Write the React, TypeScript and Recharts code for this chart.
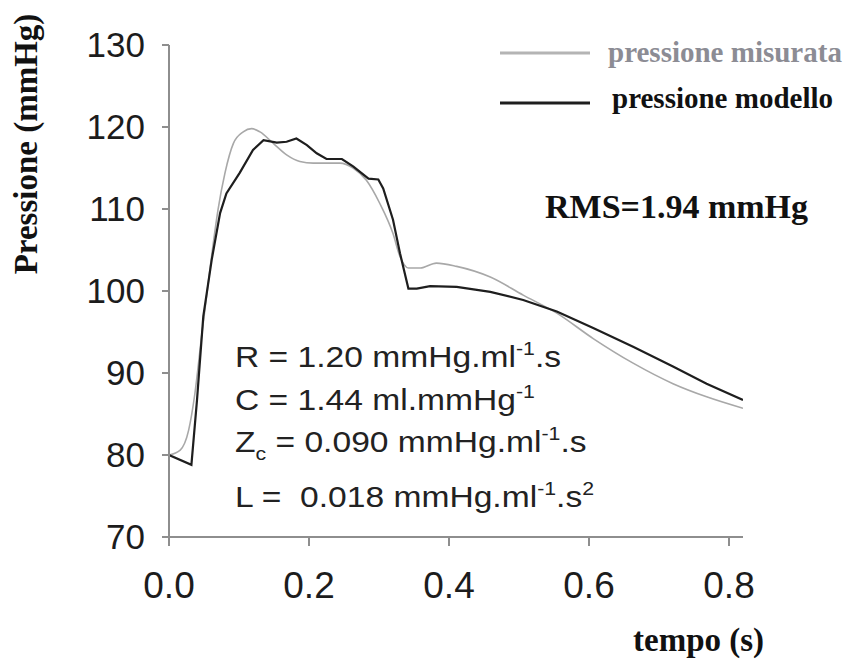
import { LineChart, Line, XAxis, YAxis } from "recharts";

// pressione modello (black)
const modelTime = [
    0, 0.032, 0.04, 0.049, 0.061, 0.073, 0.082, 0.101, 0.12, 0.135, 0.154, 0.168,
    0.182, 0.197, 0.211, 0.225, 0.247, 0.263, 0.285, 0.299, 0.306, 0.32, 0.33, 0.342,
    0.354, 0.373, 0.411, 0.459, 0.506, 0.554, 0.606, 0.663, 0.72, 0.768, 0.82,
];
const modelPressure = [
    80.0, 78.8, 86.7, 96.9, 103.8, 109.5, 111.9, 114.4, 117.2, 118.4, 118.1, 118.2,
    118.6, 117.8, 116.8, 116.1, 116.1, 115.2, 113.7, 113.6, 112.5, 108.7, 104.6, 100.3,
    100.3, 100.6, 100.5, 99.9, 98.9, 97.5, 95.5, 93.2, 90.8, 88.7, 86.7,
];

// pressione misurata (grey)
const measuredTime = [
    0, 0.016, 0.028, 0.037, 0.047, 0.059, 0.07, 0.08, 0.092, 0.106, 0.118, 0.13,
    0.149, 0.168, 0.187, 0.206, 0.244, 0.263, 0.282, 0.301, 0.32, 0.33, 0.342, 0.359,
    0.382, 0.411, 0.459, 0.506, 0.554, 0.606, 0.663, 0.72, 0.768, 0.82,
];
const measuredPressure = [
    80.0, 80.6, 83.0, 87.5, 94.8, 103.0, 109.9, 114.4, 118.0, 119.4, 119.8, 119.4,
    118.0, 116.6, 115.8, 115.6, 115.6, 115.0, 113.5, 110.7, 107.0, 104.2, 102.8, 102.8,
    103.4, 103.0, 101.7, 99.5, 97.3, 94.2, 91.2, 88.7, 87.1, 85.7,
];

const xTicks = [0, 0.2, 0.4, 0.6, 0.8];
const yTicks = [70, 80, 90, 100, 110, 120, 130];

const modelData = modelTime.map((t, i) => ({ t, p: modelPressure[i] }));
const measuredData = measuredTime.map((t, i) => ({ t, p: measuredPressure[i] }));

const AXIS = "#8e8e8e";
const SANS = "'Liberation Sans', Arial, sans-serif";
const SERIF = "'Liberation Serif', 'Times New Roman', serif";

const Overlay = () => (
    <svg
        width={850}
        height={663}
        style={{ position: "absolute", left: 0, top: 0, pointerEvents: "none" }}
    >
        {/* legend */}
        <line x1={500} x2={590} y1={53} y2={53} stroke="#b4b4b4" strokeWidth={3} />
        <text x={608} y={62} fontFamily={SERIF} fontWeight="bold" fontSize={29} fill="#8c8c94">
            pressione misurata
        </text>
        <line x1={500} x2={590} y1={103} y2={103} stroke="#1e1e1e" strokeWidth={3} />
        <text x={612} y={108} fontFamily={SERIF} fontWeight="bold" fontSize={29} fill="#111">
            pressione modello
        </text>

        <text x={545} y={218} fontFamily={SERIF} fontWeight="bold" fontSize={34} fill="#111">
            RMS=1.94 mmHg
        </text>

        {/* axis titles */}
        <text
            transform="translate(37,144) rotate(-90)"
            textAnchor="middle"
            fontFamily={SERIF}
            fontWeight="bold"
            fontSize={33}
            fill="#111"
        >
            Pressione (mmHg)
        </text>
        <text x={633} y={651} fontFamily={SERIF} fontWeight="bold" fontSize={33} fill="#111">
            tempo (s)
        </text>

        {/* model parameters */}
        <g fontFamily={SANS} fontSize={30} fill="#222">
            <text transform="translate(235,367) scale(1.12,1)">
                R = 1.20 mmHg.ml
                <tspan fontSize={19} dy={-12}>-1</tspan>
                <tspan dy={12}>.s</tspan>
            </text>
            <text transform="translate(235,410) scale(1.12,1)">
                C = 1.44 ml.mmHg
                <tspan fontSize={19} dy={-12}>-1</tspan>
            </text>
            <text transform="translate(235,452) scale(1.12,1)">
                Z
                <tspan fontSize={19} dy={8}>c</tspan>
                <tspan dy={-8}> = 0.090 mmHg.ml</tspan>
                <tspan fontSize={19} dy={-12}>-1</tspan>
                <tspan dy={12}>.s</tspan>
            </text>
            <text transform="translate(235,507) scale(1.12,1)" xmlSpace="preserve">
                {"L =  0.018 mmHg.ml"}
                <tspan fontSize={19} dy={-12}>-1</tspan>
                <tspan dy={12}>.s</tspan>
                <tspan fontSize={19} dy={-12}>2</tspan>
            </text>
        </g>
    </svg>
);

export default function App() {
    return (
        <div style={{ position: "absolute", left: 0, top: 0, width: 850, height: 663, background: "#fff" }}>
            <LineChart width={850} height={663} margin={{ top: 45, right: 107, bottom: 66, left: 89 }}>
                <XAxis
                    type="number"
                    dataKey="t"
                    domain={[0, 0.82]}
                    ticks={xTicks}
                    allowDataOverflow
                    tickFormatter={(v: number) => v.toFixed(1)}
                    height={60}
                    stroke={AXIS}
                    strokeWidth={2}
                    tickSize={9}
                    tickMargin={26}
                    tick={{ fill: "#1c1c1c", fontSize: 37, fontFamily: SANS }}
                />
                <YAxis
                    type="number"
                    domain={[70, 130]}
                    ticks={yTicks}
                    width={80}
                    stroke={AXIS}
                    strokeWidth={2}
                    tickSize={7}
                    tickMargin={17}
                    tick={{ fill: "#1c1c1c", fontSize: 35, fontFamily: SANS }}
                />
                <Line
                    data={measuredData}
                    dataKey="p"
                    type="monotone"
                    stroke="#a8a8a8"
                    strokeWidth={1.6}
                    dot={false}
                    isAnimationActive={false}
                />
                <Line
                    data={modelData}
                    dataKey="p"
                    type="linear"
                    stroke="#1e1e1e"
                    strokeWidth={2.2}
                    dot={false}
                    isAnimationActive={false}
                />
            </LineChart>
            <Overlay />
        </div>
    );
}
